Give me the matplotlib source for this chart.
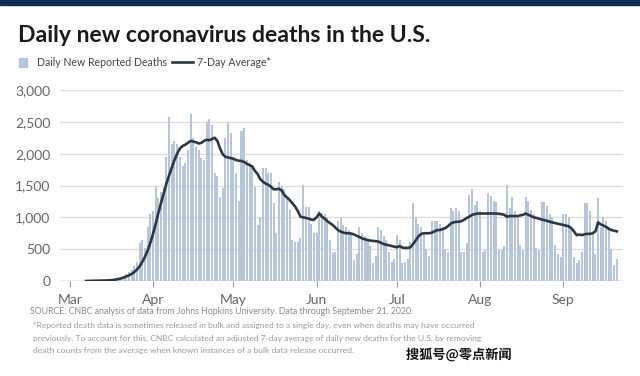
import matplotlib
matplotlib.use("Agg")
import matplotlib.pyplot as plt
import matplotlib.patheffects as pe
import numpy as np
import pandas as pd

# ---- data ----
start_date = "2020-03-01"
daily_deaths = [
    1, 1, 5, 1, 3, 2, 3, 4, 4, 4, 6, 8, 7, 10, 9,                      # Mar 1-15
    20, 25, 30, 45, 55, 70, 110, 140, 180, 230, 300, 600, 650, 520, 850, 1050,  # Mar 16-31
    1100, 1500, 1300, 1400, 1480, 1950, 2580, 2150, 2200, 2150, 1950, 1800, 1850, 2050, 2620,  # Apr 1-15
    2250, 2100, 2050, 1930, 1900, 2500, 2550, 2450, 1700, 1650, 1320, 1460, 2250, 2500, 2320,  # Apr 16-30
    1950, 1700, 1250, 2350, 2400, 1900, 1850, 1820, 1480, 880, 1000, 1780, 1780, 1700, 1700,  # May 1-15
    1220, 750, 1550, 1500, 1450, 1300, 1120, 640, 620, 620, 680, 1510, 1170, 1160, 900, 750,  # May 16-31
    750, 1100, 1070, 1050, 1000, 650, 440, 450, 950, 1000, 880, 850, 800, 750, 330,  # Jun 1-15
    420, 850, 750, 700, 650, 550, 280, 400, 850, 800, 700, 650, 450, 300, 350,  # Jun 16-30
    720, 640, 280, 300, 350, 620, 1230, 1000, 900, 850, 750, 500, 400, 950, 950,  # Jul 1-15
    950, 900, 850, 500, 450, 1150, 1100, 1150, 1100, 450, 450, 600, 1350, 1450, 1200, 1250,  # Jul 16-31
    1100, 450, 480, 1380, 1330, 1260, 1240, 490, 480, 550, 1510, 1150, 1320, 1100, 1000,  # Aug 1-15
    570, 480, 1320, 1250, 1110, 1050, 520, 480, 1240, 1240, 1180, 1050, 1000, 560, 420, 380,  # Aug 16-31
    1060, 1050, 1000, 800, 380, 280, 330, 450, 1230, 1230, 1100, 750, 420, 1300, 850,  # Sep 1-15
    1000, 950, 850, 500, 250, 350,  # Sep 16-21
]
avg_start_day = 6  # the 7-day average line starts on Mar 7
avg_7day = [
    0, 1, 2, 3, 4, 5, 6, 8, 9, 12, 15, 22, 30, 40, 55, 70, 90, 110, 140, 180,
    230, 300, 380, 480, 600, 740, 900, 1070, 1230, 1380, 1530, 1660, 1780, 1900, 2000,
    2080, 2120, 2140, 2170, 2200, 2190, 2180, 2160, 2170, 2200, 2220, 2210, 2230, 2250, 2200,
    2080, 1990, 1950, 1940, 1930, 1920, 1900, 1890, 1885, 1870, 1840, 1820, 1800, 1730, 1680,
    1600, 1560, 1530, 1510, 1480, 1440, 1440, 1450, 1420, 1350, 1310, 1270, 1220, 1170, 1100,
    1010, 1000, 990, 980, 965, 960, 1000, 1060, 1010, 980, 940, 910, 880, 840, 800,
    775, 760, 750, 750, 745, 730, 710, 690, 670, 655, 645, 635, 630, 625, 620,
    600, 580, 570, 560, 550, 540, 530, 550, 525, 520, 520, 530, 580, 640, 700,
    740, 750, 750, 750, 760, 780, 800, 800, 815, 830, 860, 900, 920, 930, 930,
    940, 960, 990, 1010, 1040, 1050, 1060, 1060, 1060, 1060, 1060, 1060, 1060, 1060, 1055,
    1050, 1040, 1010, 1020, 1020, 1020, 1020, 1030, 1040, 1060, 1040, 1020, 1000, 990, 980,
    965, 955, 945, 930, 920, 910, 900, 890, 880, 870, 860, 830, 780, 720, 730,
    720, 735, 740, 740, 750, 780, 920, 890, 870, 850, 820, 800, 790, 780,
]
y_ticks = [0, 500, 1000, 1500, 2000, 2500, 3000]
y_tick_labels = ["0", "500", "1,000", "1,500", "2,000", "2,500", "3,000"]
month_ticks = ["2020-03-01", "2020-04-01", "2020-05-01", "2020-06-01",
               "2020-07-01", "2020-08-01", "2020-09-01"]
month_labels = ["Mar", "Apr", "May", "Jun", "Jul", "Aug", "Sep"]

title = "Daily new coronavirus deaths in the U.S."
legend_bar = "Daily New Reported Deaths"
legend_line = "7-Day Average*"
source = "SOURCE: CNBC analysis of data from Johns Hopkins University. Data through September 21, 2020."
footnote = ["*Reported death data is sometimes released in bulk and assigned to a single day, even when deaths may have occurred",
            "previously. To account for this, CNBC calculated an adjusted 7-day average of daily new deaths for the U.S. by removing",
            "death counts from the average when known instances of a bulk data release occurred."]
watermark = "搜狐号@零点新闻"

# ---- style ----
BAR_C = "#b6c5d9"
LINE_C = "#2c3744"
GRID_C = "#dedede"
TICK_C = "#666666"
FONT = ["Lato", "DejaVu Sans"]

W, H = 640, 376
fig = plt.figure(figsize=(W / 100, H / 100), dpi=100)
fig.patch.set_facecolor("white")

def px(x, y):
    return x / W, 1 - y / H

# top navy band
fig.patches.append(plt.Rectangle((0, 1 - 5 / H), 1, 5 / H, transform=fig.transFigure,
                                 color="#0f2c56", zorder=0))

ax_l, ax_r, ax_t, ax_b = 60, 623, 90, 281
ax = fig.add_axes([ax_l / W, 1 - ax_b / H, (ax_r - ax_l) / W, (ax_b - ax_t) / H])

dates = pd.date_range(start_date, periods=len(daily_deaths), freq="D")
avg_dates = dates[avg_start_day:avg_start_day + len(avg_7day)]

ax.bar(dates, daily_deaths, width=0.75, color=BAR_C, zorder=2, linewidth=0)
ax.plot(avg_dates, avg_7day, color=LINE_C, lw=1.9, zorder=3, solid_joinstyle="round")

t0 = pd.Timestamp(start_date)
ax.set_xlim(t0 - pd.Timedelta(days=3.7), t0 + pd.Timedelta(days=206.3))
ax.set_ylim(0, 3000)

ax.set_yticks(y_ticks)
ax.set_yticklabels(y_tick_labels)
ax.set_xticks(pd.to_datetime(month_ticks))
ax.set_xticklabels(month_labels)

ax.grid(axis="y", color=GRID_C, lw=1.0, zorder=0)
ax.set_axisbelow(True)
for s in ax.spines.values():
    s.set_visible(False)
ax.axhline(0, color="#bdbdbd", lw=1.0, zorder=1)

ax.tick_params(axis="y", length=0, pad=7, labelsize=10, labelcolor=TICK_C)
ax.tick_params(axis="x", length=4, width=0.8, color="#999999", pad=5,
               labelsize=10, labelcolor=TICK_C)
for lab in ax.get_xticklabels() + ax.get_yticklabels():
    lab.set_family(FONT)

# title
fig.text(*px(18, 35), title, fontsize=16.6, fontweight="bold", color="#1a1a1a",
         family=FONT, va="center", ha="left")

# legend
fig.patches.append(plt.Rectangle(px(19, 67), 8 / W, 9 / H, transform=fig.transFigure,
                                 color=BAR_C))
fig.text(*px(37, 62), legend_bar, fontsize=7.6, color="#444444", family=FONT,
         va="center", ha="left")
fig.lines.append(plt.Line2D([172 / W, 193 / W], [1 - 62 / H, 1 - 62 / H],
                            transform=fig.transFigure, color=LINE_C, lw=1.9))
fig.text(*px(197, 62), legend_line, fontsize=7.6, color="#444444", family=FONT,
         va="center", ha="left")

# source and footnote
fig.text(*px(30, 311), source, fontsize=6.3, color="#8a8a8a", family=FONT,
         va="center", ha="left")
for i, line in enumerate(footnote):
    fig.text(*px(33, 325 + 13 * i), line, fontsize=6.1, color="#9a9a9a", family=FONT,
             va="center", ha="left")

# watermark
fig.text(*px(459, 355), watermark, fontsize=9.5, fontweight="bold", color="#111111",
         family=["Noto Sans CJK SC", "DejaVu Sans"], va="center", ha="center",
         path_effects=[pe.withStroke(linewidth=2.5, foreground="white")])

fig.savefig("out.png", dpi=100, facecolor="white")
